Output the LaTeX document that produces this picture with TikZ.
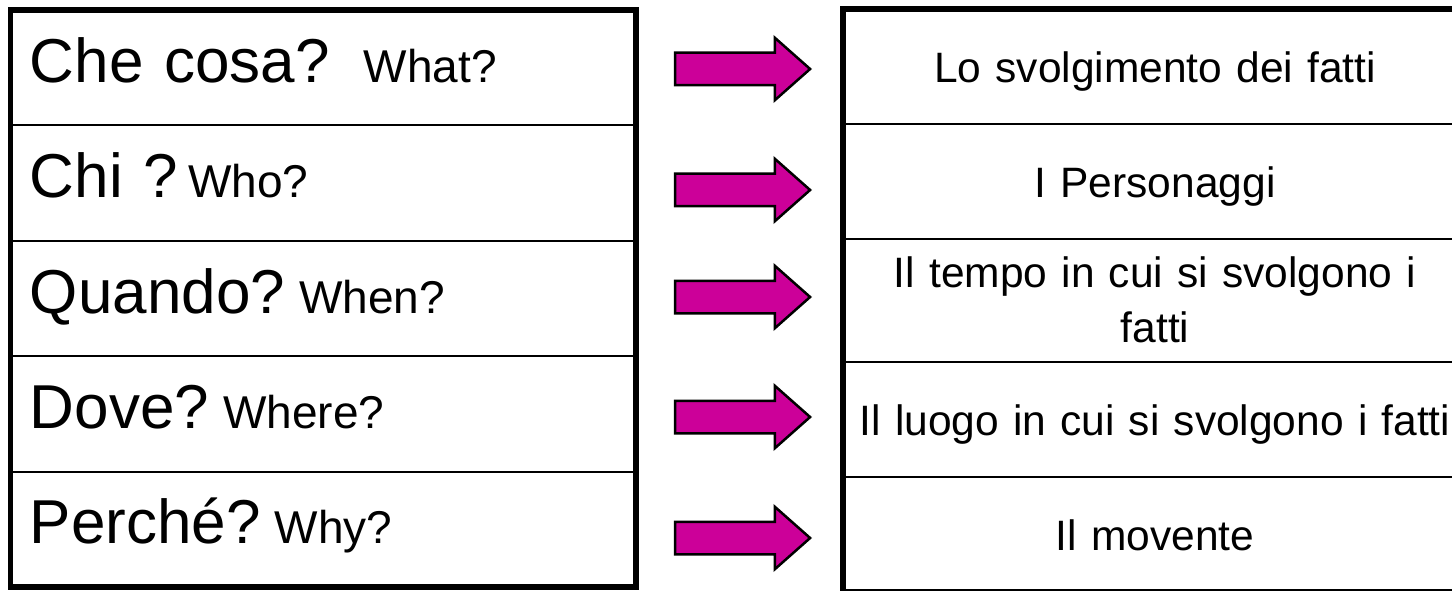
\documentclass[tikz,border=0pt]{standalone}
\usepackage{fontspec}
\setmainfont{Liberation Sans}
\usetikzlibrary{shapes.arrows, positioning}
\definecolor{arrowpink}{RGB}{204,0,153}
\newcommand{\engl}[1]{{\fontsize{46}{52}\selectfont #1}}
\tikzstyle{question} = [rectangle, draw=black, line width=2pt, outer sep=0pt, minimum width=625.5pt, minimum height=115.4pt, inner xsep=19.5pt, inner ysep=0pt, text width=586.5pt, align=left, text height=45pt, text depth=16pt, font=\fontsize{62}{70}\selectfont]
\tikzstyle{answer} = [rectangle, draw=black, line width=2pt, outer sep=0pt, minimum width=624pt, minimum height=115pt, inner xsep=5pt, inner ysep=0pt, text width=614pt, align=center, text height=46pt, text depth=14pt, font=\fontsize{42.5}{55}\selectfont]
\tikzstyle{bigarrow} = [single arrow, draw=black, line width=2.5pt, fill=arrowpink, single arrow head extend=15pt, single arrow tip angle=83, minimum height=135pt, inner xsep=0pt, inner ysep=15pt, text height=0pt, text depth=0pt, anchor=tip]
\tikzstyle{border} = [line width=5.5pt]

\begin{document}
\begin{tikzpicture}[x=1pt, y=-1pt]
		\useasboundingbox (0,0) rectangle (1452,591);
		\clip (0,0) rectangle (1452,591);

		% left column: the questions
		\node (q1) [question] at (323.25,67.7) {Che cosa?\hspace{34pt}\engl{What?}};
		\node (q2) [question, below=0pt of q1] {Chi ?\hspace{10pt}\engl{Who?}};
		\node (q3) [question, below=0pt of q2] {Quando?\hspace{14pt}\engl{When?}};
		\node (q4) [question, below=0pt of q3] {Dove?\hspace{14pt}\engl{Where?}};
		\node (q5) [question, below=0pt of q4] {Perché?\hspace{14pt}\engl{Why?}};
		\draw [border] (q1.north west) rectangle (q5.south east);

		% right column: the answers
		\node (r1) [answer] at (1155,66.5) {Lo svolgimento dei fatti};
		\node (r2) [answer, below=0pt of r1] {I Personaggi};
		\node (r3) [answer, below=0pt of r2, minimum height=123pt, text height=31pt, text depth=58pt] {Il tempo in cui si svolgono i\\ fatti};
		\node (r4) [answer, below=0pt of r3] {Il luogo in cui si svolgono i fatti};
		\node (r5) [answer, below=0pt of r4] {Il movente};
		\draw [border] (r1.north west) rectangle (r5.south east);

		% block arrows
		\node (a1) [bigarrow] at (812,69) {};
		\node (a2) [bigarrow] at (812,190) {};
		\node (a3) [bigarrow] at (812,297) {};
		\node (a4) [bigarrow] at (812,417) {};
		\node (a5) [bigarrow] at (812,538) {};
	\end{tikzpicture}
\end{document}
